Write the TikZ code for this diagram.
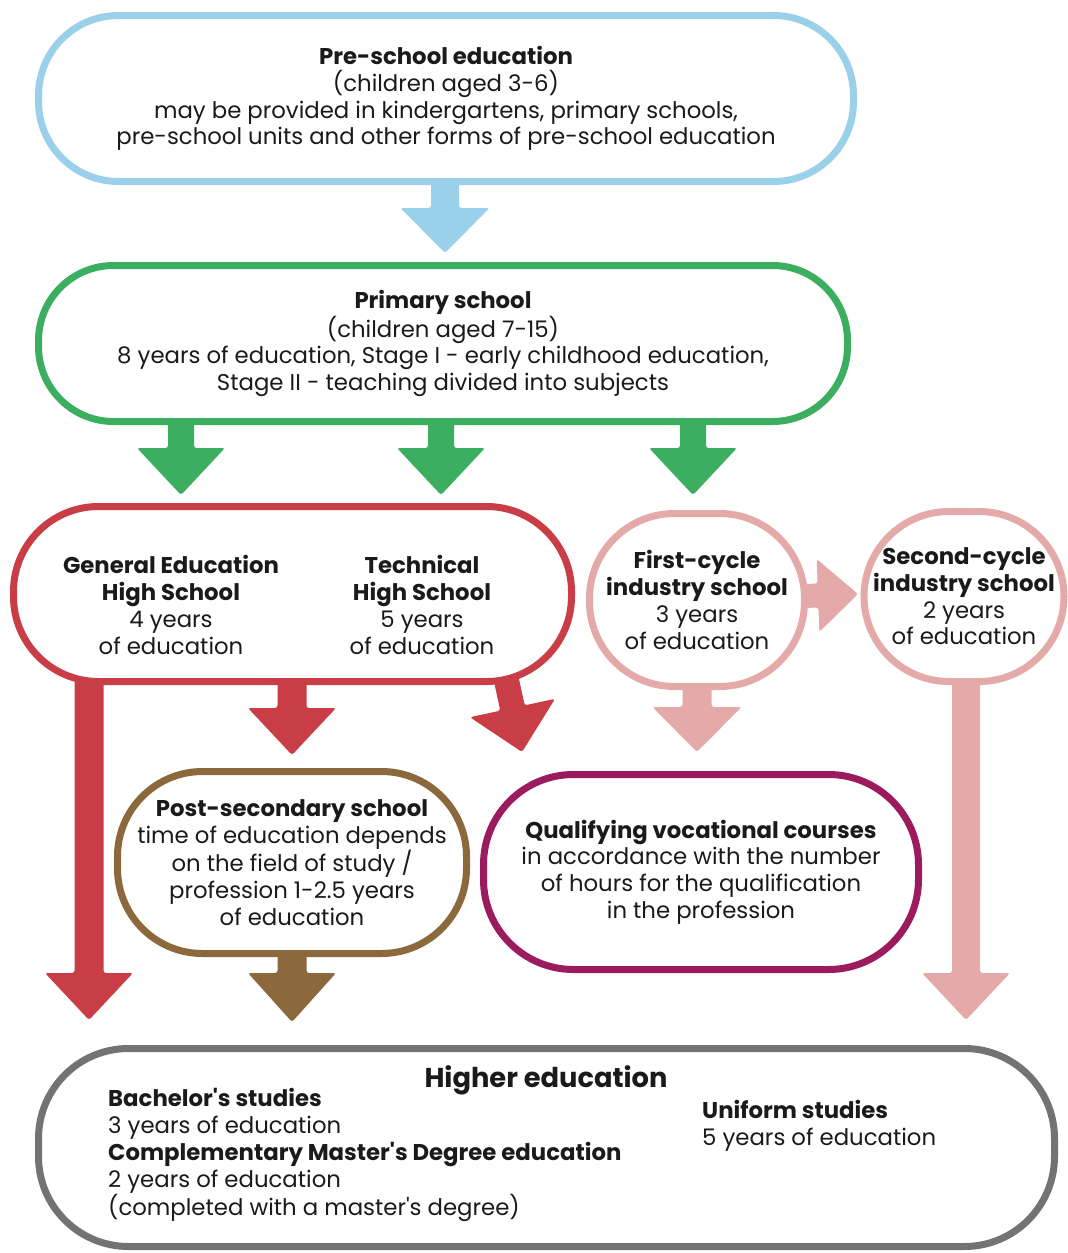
\documentclass[tikz,border=0pt]{standalone}
\usepackage{fontspec}
\setmainfont{Poppins}[Ligatures=TeXOff]
\usetikzlibrary{calc}
\definecolor{cblue}{HTML}{9AD0EA}
\definecolor{cgreen}{HTML}{3BAE5F}
\definecolor{cred}{HTML}{C83D46}
\definecolor{cpink}{HTML}{E4AAAA}
\definecolor{cbrown}{HTML}{8B693C}
\definecolor{cpurple}{HTML}{9B1B5E}
\definecolor{cgray}{HTML}{737373}
\definecolor{ctext}{HTML}{1A1A1A}
\pgfdeclarelayer{bg}\pgfsetlayers{bg,main}
% fat arrow: colour, start, tip, shaft half width, head half width, head length
\newcommand\fatarrow[6]{%
  \coordinate (fa-s) at (#2);
  \coordinate (fa-t) at (#3);
  \coordinate (fa-b) at ($(fa-t)!#6!(fa-s)$);
  \fill[#1, rounded corners=2.5pt]
    ($(fa-s)!#4!90:(fa-t)$) -- ($(fa-b)!#4!90:(fa-t)$) -- ($(fa-b)!#5!90:(fa-t)$)
    -- (fa-t) -- ($(fa-b)!#5!-90:(fa-t)$) -- ($(fa-b)!#4!-90:(fa-t)$)
    -- ($(fa-s)!#4!-90:(fa-t)$) -- cycle;
}
\tikzset{
  box/.style={draw, fill=white, line width=7pt, align=center, text=ctext,
    inner sep=0pt, font=\fontsize{22.8}{26.7}\selectfont},
  txt/.style={align=center, text=ctext, inner sep=0pt, font=\fontsize{22.8}{26.7}\selectfont},
  ltxt/.style={align=left, text=ctext, inner sep=0pt, font=\fontsize{22.8}{26.7}\selectfont},
}
\begin{document}
\begin{tikzpicture}[x=1pt,y=-1pt]
\useasboundingbox (0,0) rectangle (1068,1253);

\node[box, draw=cblue, minimum width=815pt, minimum height=166pt, rounded corners=80pt] (pre) at (446,98.5)
  {\textbf{Pre-school education}\\(children aged 3-6)\\may be provided in kindergartens, primary schools,\\pre-school units and other forms of pre-school education};

\node[box, draw=cgreen, minimum width=809pt, minimum height=156pt, rounded corners=75pt] (prim) at (443,343.5)
  {\textbf{Primary school}\\(children aged 7-15)\\8 years of education, Stage I - early childhood education,\\Stage II - teaching divided into subjects};

\node[box, draw=cred, minimum width=558pt, minimum height=175pt, rounded corners=85pt] (high) at (292.5,594) {};
\node[txt] (ge) at (171,605) {\textbf{General Education}\\\textbf{High School}\\4 years\\of education};
\node[txt] (tech) at (422,605) {\textbf{Technical}\\\textbf{High School}\\5 years\\of education};

\node[box, draw=cpink, minimum width=215pt, minimum height=173pt, rounded corners=85pt] (first) at (697,600)
  {\textbf{First-cycle}\\\textbf{industry school}\\3 years\\of education};
\node[box, draw=cpink, minimum width=200pt, minimum height=170pt, rounded corners=85pt] (second) at (964,596.5)
  {\textbf{Second-cycle}\\\textbf{industry school}\\2 years\\of education};

\node[box, draw=cbrown, minimum width=349pt, minimum height=182pt, rounded corners=85pt] (post) at (292,862.5)
  {\textbf{Post-secondary school}\\time of education depends\\on the field of study /\\profession 1-2.5 years\\of education};

\node[box, draw=cpurple, minimum width=435pt, minimum height=195pt, rounded corners=90pt] (voc) at (701,872)
  {\textbf{Qualifying vocational courses}\\in accordance with the number\\of hours for the qualification\\in the profession};

\node[box, draw=cgray, minimum width=1016pt, minimum height=198pt, rounded corners=90pt] (heb) at (546.5,1147.5) {};
\node[txt, font=\fontsize{27.3}{30}\selectfont\bfseries] (hetitle) at (546,1080) {Higher education};
\node[ltxt, anchor=north west] (helft) at (108,1088.5)
  {\textbf{Bachelor's studies}\\3 years of education\\\textbf{Complementary Master's Degree education}\\2 years of education\\(completed with a master's degree)};
\node[ltxt, anchor=north west] (hergt) at (702,1100.5)
  {\textbf{Uniform studies}\\5 years of education};

% arrow tips
\coordinate (tpre) at (445,253);
\coordinate (tg1) at (181,495);
\coordinate (tg2) at (441,495);
\coordinate (tg3) at (693,495);
\coordinate (tr1) at (89,1020);
\coordinate (tr2) at (292,755);
\coordinate (tr3) at (522,752);
\coordinate (sr3) at (499.8,649.4);
\coordinate (tp1) at (697,752);
\coordinate (tp2) at (858,594);
\coordinate (tp3) at (966,1020);
\coordinate (tb) at (292,1022);

\begin{pgfonlayer}{bg}
\fatarrow{cblue}{tpre |- pre.center}{tpre}{14pt}{44.5pt}{45pt}
\fatarrow{cgreen}{tg1 |- prim.center}{tg1}{13pt}{44pt}{47pt}
\fatarrow{cgreen}{tg2 |- prim.center}{tg2}{13pt}{44pt}{47pt}
\fatarrow{cgreen}{tg3 |- prim.center}{tg3}{13pt}{44pt}{47pt}
\fatarrow{cred}{tr1 |- high.center}{tr1}{14.5pt}{44pt}{47pt}
\fatarrow{cred}{tr2 |- high.center}{tr2}{14.5pt}{44pt}{47pt}
\fatarrow{cred}{sr3}{tr3}{12.5pt}{43.5pt}{45pt}
\fatarrow{cpink}{tp1 |- first.center}{tp1}{14.5pt}{44.5pt}{45pt}
\fatarrow{cpink}{first.center}{tp2}{12pt}{36.5pt}{40pt}
\fatarrow{cpink}{tp3 |- second.center}{tp3}{14pt}{44pt}{47pt}
\fatarrow{cbrown}{tb |- post.center}{tb}{14.5pt}{44pt}{49pt}
\end{pgfonlayer}
\end{tikzpicture}
\end{document}
